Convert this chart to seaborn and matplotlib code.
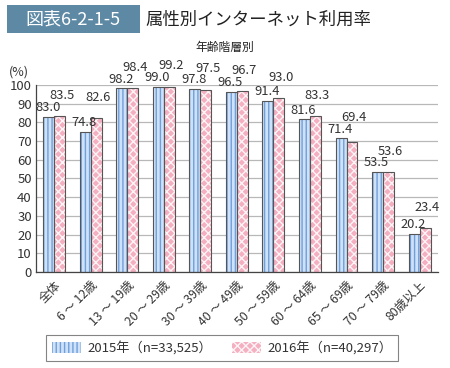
import numpy as np
import pandas as pd
import matplotlib.pyplot as plt
import seaborn as sns
from matplotlib.patches import Rectangle, Patch

# data
categories = ["全体", "6 ～ 12歳", "13 ～ 19歳", "20 ～ 29歳", "30 ～ 39歳", "40 ～ 49歳",
              "50 ～ 59歳", "60 ～ 64歳", "65 ～ 69歳", "70 ～ 79歳", "80歳以上"]
rate_2015 = [83.0, 74.8, 98.2, 99.0, 97.8, 96.5, 91.4, 81.6, 71.4, 53.5, 20.2]
rate_2016 = [83.5, 82.6, 98.4, 99.2, 97.5, 96.7, 93.0, 83.3, 69.4, 53.6, 23.4]
series = ["2015年（n=33,525）", "2016年（n=40,297）"]
y_ticks = list(range(0, 101, 10))

df = pd.DataFrame({
    "cat": categories * 2,
    "year": [series[0]] * len(categories) + [series[1]] * len(categories),
    "val": rate_2015 + rate_2016,
})

sns.set_style("white")
plt.rcParams["font.family"] = ["Noto Sans CJK JP", "DejaVu Sans"]
plt.rcParams["hatch.linewidth"] = 1.0

fig = plt.figure(figsize=(4.5, 3.68), dpi=100)
ax = fig.add_axes([0.08, 0.261, 0.893, 0.508])

sns.barplot(data=df, x="cat", y="val", hue="year", order=categories, hue_order=series,
            palette=["#c9def5", "#f5b5c5"], width=0.6, gap=0, ax=ax, legend=False)

styles = [dict(fc="#cfe1f6", hc="#6f9fdc", hatch="||||"),
          dict(fc="#f4b0c1", hc="#fff4f7", hatch="xxxx")]
n = len(categories)
for i, p in enumerate(ax.patches[:2 * n]):
    s = styles[i // n]
    p.set_facecolor(s["fc"])
    p.set_edgecolor(s["hc"])
    p.set_hatch(s["hatch"])
    p.set_linewidth(0)
    ax.add_patch(Rectangle(p.get_xy(), p.get_width(), p.get_height(), fill=False,
                           edgecolor="#555555", lw=0.8, zorder=3))

# value labels
for i in range(n):
    b15 = ax.patches[i]
    b16 = ax.patches[n + i]
    y1 = rate_2015[i] + 1.5
    y2 = max(rate_2015[i], rate_2016[i]) + 7.5
    ax.text(b15.get_x() + b15.get_width() / 2 - 0.03, y1, f"{rate_2015[i]:.1f}", ha="center",
            va="bottom", fontsize=9.3, color="#333333")
    ax.text(b16.get_x() + b16.get_width() / 2 + 0.05, y2, f"{rate_2016[i]:.1f}", ha="center",
            va="bottom", fontsize=9.3, color="#333333")

ax.set_ylim(0, 100)
ax.set_xlim(-0.5, n - 0.5)
ax.set_yticks(y_ticks)
ax.yaxis.grid(True, color="#b8b8b8", lw=0.9)
ax.set_axisbelow(True)
ax.set_xlabel("")
ax.set_ylabel("")
for side in ["top", "right"]:
    ax.spines[side].set_visible(False)
for side in ["left", "bottom"]:
    ax.spines[side].set_color("#444444")
    ax.spines[side].set_linewidth(0.9)
ax.tick_params(axis="y", labelsize=9.5, length=0, pad=3, labelcolor="#333333")
ax.set_xticks(range(n))
ax.set_xticklabels(categories, rotation=45, ha="right", rotation_mode="anchor",
                   fontsize=8.8, color="#333333")
ax.tick_params(axis="x", which="major", length=0, pad=5)
ax.set_xticks(np.arange(-0.5, n, 1.0), minor=True)
ax.tick_params(axis="x", which="minor", length=5, width=0.8, color="#444444", direction="out")
fig.text(9 / 450, 1 - 72 / 368, "(%)", ha="left", va="center",
         fontsize=9, color="#333333")

# title box
fig.patches.append(Rectangle((7 / 450, 1 - 33 / 368), 133 / 450, 28 / 368,
                             transform=fig.transFigure, facecolor="#5e89a5",
                             edgecolor="none"))
fig.text(73 / 450, 1 - 19.5 / 368, "図表6-2-1-5", ha="center", va="center",
         fontsize=13, color="white")
fig.text(145 / 450, 1 - 19.5 / 368, "属性別インターネット利用率", ha="left", va="center",
         fontsize=12.5, color="#222222")
fig.text(225 / 450, 1 - 47 / 368, "年齢階層別", ha="center", va="center",
         fontsize=8.5, color="#222222")

# legend
handles = [Patch(facecolor=s["fc"], edgecolor=s["hc"], hatch=s["hatch"], lw=0)
           for s in styles]
leg = fig.legend(handles, series, loc="center", bbox_to_anchor=(222 / 450, 1 - 348 / 368),
                 ncol=2, fontsize=9.5, frameon=True, fancybox=False, edgecolor="#666666",
                 handlelength=2.2, handleheight=0.9, columnspacing=1.5, borderpad=0.45,
                 handletextpad=0.5)
leg.get_frame().set_linewidth(0.8)
for t in leg.get_texts():
    t.set_color("#333333")

fig.savefig("out.png", dpi=100)
